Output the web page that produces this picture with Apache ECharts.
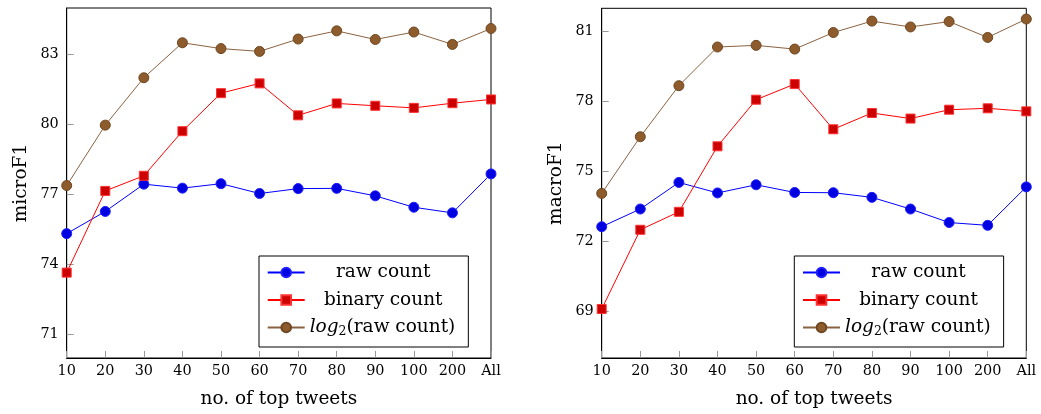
<!DOCTYPE html>
<html>
<head>
<meta charset="utf-8">
<script src="https://cdn.jsdelivr.net/npm/echarts@6/dist/echarts.min.js"></script>
<style>
html,body{margin:0;padding:0;background:#fff;}
#c{width:1041px;height:414px;}
</style>
</head>
<body>
<div id="c"></div>
<script>
var categories = ['10','20','30','40','50','60','70','80','90','100','200','All'];

var microRaw    = [75.33, 76.28, 77.45, 77.28, 77.47, 77.05, 77.26, 77.27, 76.95, 76.46, 76.22, 77.89];
var microBinary = [73.66, 77.16, 77.81, 79.72, 81.35, 81.77, 80.40, 80.91, 80.81, 80.72, 80.92, 81.08];
var microLog2   = [77.39, 79.98, 82.01, 83.51, 83.26, 83.14, 83.67, 84.02, 83.65, 83.97, 83.44, 84.12];

var macroRaw    = [72.63, 73.39, 74.53, 74.08, 74.43, 74.10, 74.09, 73.89, 73.39, 72.81, 72.69, 74.34];
var macroBinary = [69.10, 72.50, 73.27, 76.08, 78.08, 78.75, 76.81, 77.51, 77.27, 77.65, 77.71, 77.58];
var macroLog2   = [74.06, 76.49, 78.68, 80.34, 80.41, 80.25, 80.96, 81.45, 81.20, 81.43, 80.75, 81.54];

var microTicks = [71, 74, 77, 80, 83];
var macroTicks = [69, 72, 75, 78, 81];

var seriesNames = ['raw count', 'binary count', 'log2(raw count)'];

var FONT = 'DejaVu Serif';

var styles = [
  {symbol:'circle', size:10, line:'#0000ff', fill:'#0000e0', border:'#2020ff'},
  {symbol:'rect',   size:9,  line:'#ff0000', fill:'#cc0000', border:'#ff3030'},
  {symbol:'circle', size:10, line:'#8a6240', fill:'#8e5c2c', border:'#6e4722'}
];

function xAxis(gi) {
  return {
    type:'category', gridIndex:gi, data:categories, boundaryGap:false,
    name:'no. of top tweets', nameLocation:'middle', nameGap:32,
    nameTextStyle:{fontFamily:FONT, fontSize:18.5, color:'#000'},
    axisLine:{lineStyle:{color:'#000', width:1}},
    axisTick:{show:true, inside:true, length:7, alignWithLabel:true, lineStyle:{color:'#999'}},
    axisLabel:{fontFamily:FONT, fontSize:14.4, color:'#000', margin:6, interval:0},
    splitLine:{show:false}
  };
}
function yAxis(gi, min, max, ticks, name) {
  return {
    type:'value', gridIndex:gi, min:min, max:max,
    name:name, nameLocation:'middle', nameGap:36,
    nameTextStyle:{fontFamily:FONT, fontSize:18.5, color:'#000'},
    axisLine:{show:true, lineStyle:{color:'#000', width:1}},
    axisTick:{show:true, inside:true, length:7, customValues:ticks, lineStyle:{color:'#999'}},
    axisLabel:{fontFamily:FONT, fontSize:14.4, color:'#000', margin:8, customValues:ticks},
    splitLine:{show:false}
  };
}
function mk(name, data, gi, si) {
  var s = styles[si];
  return {
    name:name, type:'line', xAxisIndex:gi, yAxisIndex:gi, data:data,
    symbol:s.symbol, symbolSize:s.size, showSymbol:true,
    lineStyle:{color:s.line, width:1},
    itemStyle:{color:s.fill, borderColor:s.border, borderWidth:1},
    emphasis:{disabled:true}, z: 3 + si
  };
}
function legend(left) {
  return {
    orient:'vertical', left:left, top:256,
    padding:[7,13,9,7.7],
    itemWidth:37, itemHeight:12, itemGap:8.5,
    borderColor:'#000', borderWidth:1, backgroundColor:'#fff',
    data:seriesNames,
    textStyle:{fontFamily:FONT, fontSize:18.5, color:'#000',
      rich:{
        c:{fontFamily:FONT, fontSize:18.5, color:'#000', width:147, align:'center'},
        i:{fontFamily:FONT, fontSize:18.5, fontStyle:'italic', color:'#000'},
        s:{fontFamily:FONT, fontSize:12.5, color:'#000', verticalAlign:'bottom', padding:[8,0,0,0]},
        t:{fontFamily:FONT, fontSize:18.5, color:'#000'}
      }
    },
    formatter:function(n){
      if (n === 'log2(raw count)') return '{i|log}{s|2}{t|(raw count)}';
      return '{c|' + n + '}';
    },
    selectedMode:false
  };
}

var chart = echarts.init(document.getElementById('c'), null, {renderer:'canvas'});
chart.setOption({
  animation:false,
  backgroundColor:'#fff',
  grid:[
    {left:66.7, right:550, top:8, bottom:53, show:true, borderColor:'#000', borderWidth:1, containLabel:false},
    {left:601.7, right:14.7, top:8.3, bottom:53, show:true, borderColor:'#000', borderWidth:1, containLabel:false}
  ],
  xAxis:[xAxis(0), xAxis(1)],
  yAxis:[yAxis(0, 70, 85, microTicks, 'microF1'), yAxis(1, 67, 82, macroTicks, 'macroF1')],
  legend:[legend(259), legend(794.3)],
  series:[
    mk(seriesNames[0], microRaw, 0, 0),
    mk(seriesNames[1], microBinary, 0, 1),
    mk(seriesNames[2], microLog2, 0, 2),
    mk(seriesNames[0], macroRaw, 1, 0),
    mk(seriesNames[1], macroBinary, 1, 1),
    mk(seriesNames[2], macroLog2, 1, 2)
  ]
});
</script>
</body>
</html>
